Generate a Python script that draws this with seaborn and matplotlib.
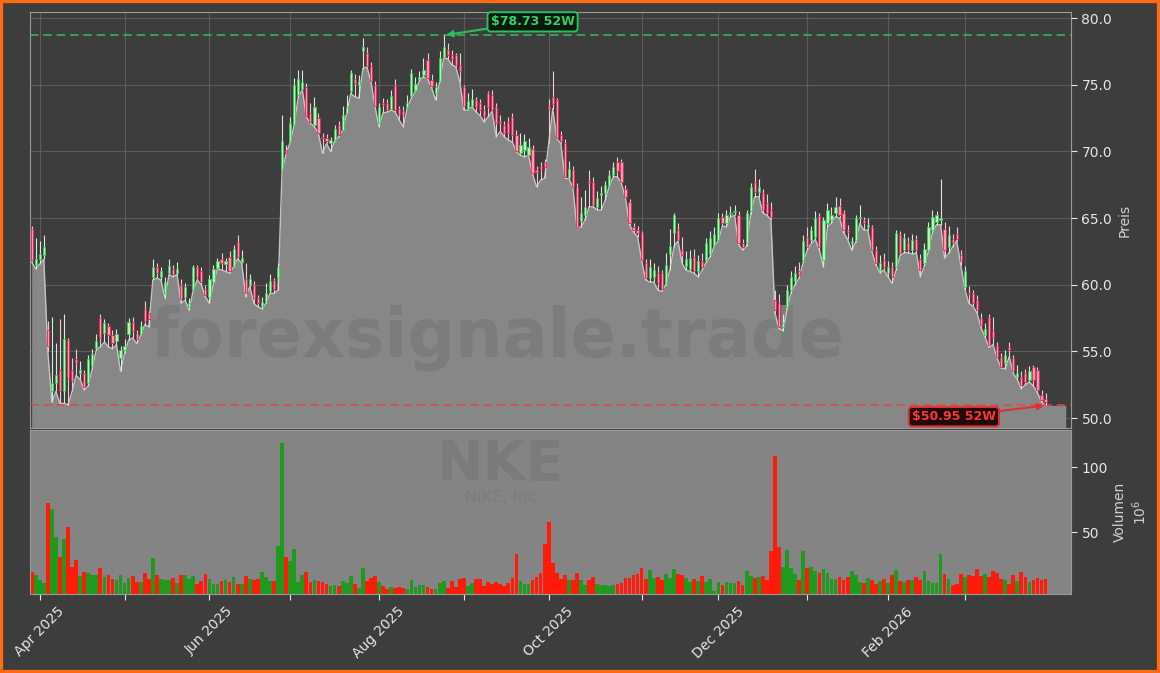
import numpy as np
import pandas as pd
import matplotlib
matplotlib.use("Agg")
import matplotlib.pyplot as plt
from matplotlib.patches import Rectangle
import seaborn as sns

# NKE daily bars, 28 Mar 2025 - 30 Mar 2026
holidays = ["2025-04-18", "2025-05-26", "2025-06-19", "2025-07-04", "2025-09-01",
            "2025-11-27", "2025-12-25", "2026-01-01", "2026-01-19", "2026-02-16"]
trade_days = pd.bdate_range("2025-03-28", "2026-03-30")
trade_days = trade_days[~trade_days.isin(pd.to_datetime(holidays))]

opens = [
    64.2, 61.5, 61.9, 62.2, 56.6, 52.0, 52.6, 53.6, 52.0, 55.85,
    53.6, 54.4, 53.35, 53.35, 52.6, 53.9, 55.25, 57.5, 56.4, 56.9,
    56.2, 55.8, 54.5, 55.1, 56.3, 57.2, 56.4, 56.3, 58.2, 57.9,
    60.6, 61.3, 60.6, 59.4, 60.9, 61.2, 60.85, 60.0, 59.1, 58.35,
    59.7, 61.3, 61.0, 59.7, 59.1, 60.2, 61.25, 61.9, 61.55, 62.1,
    61.4, 63.2, 61.7, 60.4, 60.0, 60.0, 59.0, 58.4, 58.8, 59.5,
    60.35, 60.5, 68.65, 70.1, 70.75, 72.05, 74.25, 74.7, 74.85, 72.85,
    72.0, 72.5, 71.1, 71.0, 70.6, 70.85, 71.95, 71.6, 72.9, 74.5,
    75.4, 75.0, 77.5, 77.35, 76.4, 75.0, 72.1, 73.6, 73.6, 73.15,
    75.0, 73.2, 73.0, 73.35, 74.15, 74.6, 75.4, 75.7, 76.85, 75.35,
    74.4, 75.25, 77.1, 77.6, 77.2, 77.2, 76.5, 74.8, 73.2, 73.4,
    73.85, 73.6, 73.1, 74.35, 74.2, 73.35, 72.3, 72.0, 72.2, 72.55,
    71.2, 69.85, 70.1, 69.75, 70.2, 68.6, 68.9, 69.2, 73.4, 74.05,
    73.85, 71.2, 70.6, 68.0, 68.6, 67.35, 64.8, 65.2, 67.75, 67.7,
    65.85, 66.7, 66.85, 67.5, 68.2, 69.2, 69.2, 67.2, 66.2, 64.35,
    64.1, 63.85, 61.6, 60.5, 60.6, 60.85, 60.9, 60.1, 62.3, 63.85,
    64.1, 62.6, 61.4, 61.15, 62.1, 61.0, 61.8, 61.85, 62.3, 63.0,
    63.35, 65.05, 64.6, 65.3, 65.45, 65.25, 63.1, 63.1, 65.5, 67.7,
    66.95, 66.85, 66.1, 65.6, 58.85, 58.6, 56.85, 58.35, 59.6, 60.3,
    61.0, 61.85, 63.6, 63.35, 63.6, 65.15, 61.85, 64.6, 64.85, 65.35,
    65.9, 65.35, 64.1, 63.1, 63.35, 65.0, 64.85, 64.3, 64.35, 62.6,
    61.1, 61.85, 60.85, 61.35, 61.35, 63.7, 62.6, 63.2, 62.6, 63.45,
    61.95, 61.6, 62.6, 64.1, 64.7, 64.85, 64.2, 62.85, 63.45, 63.8,
    62.25, 59.85, 59.4, 59.35, 58.85, 57.5, 56.2, 57.6, 56.5, 55.45,
    54.6, 54.1, 55.35, 54.5, 53.1, 53.1, 53.35, 52.85, 53.85, 53.6,
    51.7, 51.45,
]
highs = [
    64.4, 63.5, 63.3, 63.7, 57.3, 57.6, 55.6, 57.4, 57.8, 56.0,
    54.5, 55.2, 54.3, 53.6, 54.7, 55.2, 56.3, 57.8, 57.4, 57.1,
    56.6, 56.7, 55.4, 55.9, 57.5, 57.6, 56.6, 57.3, 58.8, 58.0,
    61.9, 61.6, 61.3, 60.6, 61.95, 61.5, 61.7, 60.4, 60.1, 59.0,
    61.5, 61.5, 61.3, 60.0, 60.7, 61.5, 62.0, 62.4, 62.0, 62.5,
    63.0, 63.7, 62.6, 61.6, 60.8, 60.3, 59.2, 59.1, 60.1, 60.8,
    60.5, 61.6, 72.75, 70.5, 72.6, 75.5, 76.1, 76.1, 75.1, 73.6,
    74.1, 72.9, 71.4, 71.3, 71.1, 72.0, 72.3, 73.4, 74.2, 76.1,
    75.8, 75.7, 78.5, 77.8, 76.7, 75.3, 73.6, 74.0, 73.9, 74.6,
    75.4, 73.4, 73.4, 74.2, 76.2, 75.6, 76.0, 77.0, 77.4, 75.8,
    75.2, 77.5, 78.73, 78.1, 77.6, 77.4, 77.4, 75.0, 74.35, 74.7,
    74.1, 73.9, 73.5, 74.5, 74.6, 73.6, 72.7, 72.3, 72.6, 72.9,
    71.6, 71.4, 71.3, 71.0, 70.5, 68.9, 69.2, 69.4, 73.9, 76.0,
    74.0, 71.5, 70.9, 69.3, 68.9, 67.6, 66.6, 67.1, 68.6, 68.1,
    67.0, 67.4, 67.8, 68.6, 69.2, 69.6, 69.45, 67.5, 66.4, 64.6,
    64.4, 64.0, 61.9, 61.9, 61.6, 61.4, 61.1, 62.4, 64.2, 65.4,
    64.6, 63.6, 62.5, 62.6, 62.7, 62.2, 62.4, 63.5, 64.0, 64.3,
    65.4, 65.4, 65.6, 65.9, 66.0, 65.5, 63.4, 65.6, 67.6, 68.7,
    67.9, 67.2, 66.8, 66.2, 59.6, 59.3, 57.8, 60.0, 61.0, 61.4,
    61.7, 63.7, 64.3, 64.4, 65.5, 65.4, 65.1, 66.1, 65.8, 66.6,
    66.5, 65.6, 64.5, 63.6, 65.2, 66.0, 65.1, 65.0, 64.5, 62.9,
    62.2, 62.4, 61.8, 61.7, 64.1, 64.0, 63.9, 63.6, 63.8, 63.7,
    62.3, 63.1, 64.7, 65.6, 65.5, 67.95, 64.7, 64.4, 63.8, 64.3,
    62.6, 61.4, 59.9, 59.6, 59.2, 57.9, 57.1, 57.8, 57.6, 55.7,
    54.9, 55.1, 55.7, 54.7, 54.0, 53.5, 53.7, 53.9, 54.0, 53.8,
    52.1, 51.85,
]
lows = [
    61.7, 61.2, 61.55, 61.9, 55.0, 51.2, 52.0, 51.1, 51.1, 51.0,
    52.0, 53.2, 52.9, 52.1, 52.4, 53.7, 55.1, 55.35, 55.7, 55.35,
    55.2, 55.5, 53.5, 54.85, 55.85, 56.0, 55.6, 56.2, 57.0, 56.85,
    60.35, 60.5, 60.35, 59.0, 60.75, 60.6, 60.75, 58.6, 58.85, 58.1,
    59.6, 60.35, 60.0, 59.1, 58.6, 60.1, 61.2, 61.1, 61.0, 60.85,
    61.35, 61.95, 61.6, 59.1, 59.85, 58.6, 58.35, 58.2, 58.6, 59.35,
    59.35, 59.6, 68.6, 69.8, 70.7, 72.0, 74.1, 74.6, 72.6, 72.1,
    71.85, 71.35, 69.85, 70.6, 70.0, 70.75, 71.1, 71.6, 72.85, 74.35,
    74.1, 74.0, 76.2, 76.35, 75.2, 73.35, 71.85, 72.9, 72.95, 73.1,
    72.95, 72.35, 71.85, 73.3, 74.0, 74.5, 75.3, 75.6, 75.45, 74.8,
    73.85, 75.2, 77.05, 76.95, 76.5, 76.35, 75.2, 73.1, 73.1, 73.35,
    72.95, 72.7, 72.2, 72.6, 73.0, 71.1, 71.5, 71.1, 70.85, 70.7,
    69.95, 69.7, 69.6, 69.7, 68.3, 67.35, 67.85, 68.0, 70.6, 73.2,
    70.95, 70.6, 68.0, 67.95, 67.3, 64.2, 64.35, 64.85, 65.85, 65.85,
    65.6, 65.6, 66.35, 67.4, 68.1, 68.1, 67.6, 66.5, 64.5, 63.95,
    63.6, 61.8, 60.35, 60.2, 60.2, 59.6, 59.5, 60.0, 61.1, 62.85,
    63.3, 61.6, 61.1, 61.0, 60.85, 60.6, 61.1, 61.7, 62.1, 62.9,
    63.3, 64.4, 64.35, 65.1, 65.2, 63.0, 62.6, 62.9, 65.3, 66.6,
    66.6, 65.4, 65.2, 64.9, 57.9, 56.7, 56.55, 58.2, 59.4, 60.0,
    60.5, 61.7, 62.6, 63.1, 63.4, 62.6, 61.35, 64.35, 64.6, 65.1,
    65.0, 63.9, 63.4, 62.6, 63.2, 64.6, 64.1, 64.1, 62.5, 61.5,
    60.9, 61.1, 60.6, 60.1, 61.1, 62.2, 62.4, 62.4, 62.3, 62.4,
    60.6, 61.4, 62.5, 63.9, 64.5, 64.5, 62.0, 62.35, 62.85, 63.3,
    61.5, 59.7, 58.6, 58.4, 57.9, 56.8, 56.1, 55.3, 55.5, 54.5,
    53.75, 53.7, 54.6, 53.35, 52.9, 52.2, 52.5, 52.7, 52.4, 51.9,
    51.2, 50.95,
]
closes = [
    61.85, 61.95, 62.3, 62.8, 55.4, 52.6, 53.2, 52.0, 55.9, 53.0,
    52.8, 54.1, 53.6, 52.3, 54.4, 54.8, 55.8, 56.0, 57.1, 56.2,
    55.6, 56.3, 55.1, 55.4, 57.2, 56.5, 55.9, 56.9, 57.3, 57.4,
    61.3, 60.9, 61.0, 60.2, 61.4, 60.8, 61.2, 58.9, 59.8, 58.6,
    61.3, 60.6, 60.2, 59.2, 60.4, 61.2, 61.75, 61.6, 61.75, 61.0,
    62.7, 62.1, 62.0, 59.4, 60.4, 59.0, 58.6, 58.7, 59.4, 60.3,
    59.7, 61.35, 70.75, 69.85, 72.1, 75.0, 75.4, 75.2, 72.65, 72.2,
    73.35, 71.4, 71.0, 70.75, 70.85, 71.7, 71.2, 72.7, 73.3, 75.85,
    75.1, 75.3, 77.85, 76.4, 75.25, 73.4, 73.35, 73.5, 73.1, 74.15,
    73.1, 72.8, 72.7, 73.6, 75.85, 75.05, 75.6, 76.1, 75.5, 74.9,
    74.8, 77.0, 77.8, 77.2, 76.9, 76.5, 76.0, 73.4, 73.8, 73.95,
    73.35, 73.1, 72.65, 73.35, 73.1, 72.1, 72.1, 71.35, 71.35, 71.25,
    70.0, 70.5, 70.75, 70.35, 68.35, 68.45, 68.65, 68.85, 73.2, 73.55,
    71.0, 70.75, 68.1, 68.7, 67.35, 64.25, 65.4, 65.8, 67.6, 65.95,
    66.5, 66.85, 67.5, 68.2, 68.8, 68.5, 67.7, 66.6, 64.6, 64.1,
    63.85, 61.85, 60.5, 61.35, 61.1, 60.1, 59.7, 61.5, 62.9, 65.2,
    63.35, 62.2, 61.9, 62.0, 61.0, 61.8, 61.3, 63.15, 63.5, 63.8,
    65.0, 64.6, 65.2, 65.4, 65.55, 63.1, 62.85, 65.35, 67.35, 66.95,
    67.35, 65.6, 65.35, 65.1, 58.1, 56.85, 57.1, 59.6, 60.6, 60.9,
    60.75, 63.3, 62.85, 64.1, 65.0, 62.85, 64.85, 65.6, 65.2, 65.85,
    65.2, 64.1, 63.95, 63.25, 65.0, 65.1, 64.6, 64.5, 62.6, 61.6,
    61.6, 61.35, 61.3, 60.6, 63.85, 62.35, 63.5, 62.6, 63.35, 62.6,
    61.1, 62.7, 64.35, 65.1, 65.2, 65.0, 62.6, 63.7, 63.1, 63.45,
    61.75, 61.0, 59.3, 58.6, 58.1, 57.0, 56.7, 55.5, 56.1, 54.6,
    53.85, 54.75, 55.1, 53.5, 53.4, 52.5, 52.7, 53.5, 52.85, 52.1,
    51.35, 51.2,
]
# volume in millions of shares
volumes = [
    19.6, 17.3, 13.2, 11.1, 72.1, 68.0, 46.0, 30.6, 45.0, 54.2,
    22.9, 28.8, 16.5, 19.6, 18.8, 17.3, 17.3, 22.1, 15.2, 17.3,
    13.7, 13.4, 17.3, 10.6, 15.0, 16.5, 11.6, 11.9, 18.8, 14.2,
    30.3, 17.3, 14.2, 13.4, 13.4, 15.0, 11.1, 17.3, 17.3, 14.2,
    16.5, 10.3, 12.7, 18.0, 14.2, 10.3, 10.3, 12.7, 13.4, 11.9,
    15.7, 10.3, 10.3, 16.5, 14.2, 13.4, 14.2, 19.6, 15.7, 12.7,
    12.7, 39.6, 118.3, 31.1, 28.0, 37.3, 11.9, 17.3, 19.6, 11.9,
    13.4, 12.7, 11.9, 9.8, 8.8, 9.6, 8.8, 12.7, 11.1, 16.5,
    10.3, 7.3, 22.7, 12.7, 15.0, 16.5, 11.9, 8.8, 6.5, 8.0,
    6.8, 7.5, 7.0, 6.2, 13.4, 8.0, 9.6, 9.6, 8.0, 6.2,
    6.2, 11.1, 12.7, 7.0, 12.7, 8.0, 14.2, 15.0, 8.8, 11.1,
    14.2, 14.2, 8.8, 11.9, 10.3, 11.9, 10.3, 8.8, 11.1, 15.0,
    33.4, 12.7, 10.3, 10.3, 13.4, 15.7, 18.8, 40.9, 58.0, 26.5,
    18.8, 14.2, 17.3, 13.4, 13.4, 18.8, 13.4, 9.6, 13.4, 15.7,
    10.3, 9.6, 9.6, 8.8, 9.6, 10.3, 11.1, 15.0, 15.0, 17.3,
    18.0, 22.7, 14.2, 21.1, 15.0, 15.7, 13.4, 18.0, 15.0, 21.9,
    18.0, 17.3, 15.0, 11.9, 14.2, 12.7, 16.5, 11.9, 14.2, 5.0,
    11.9, 9.6, 11.9, 11.1, 11.1, 12.7, 9.6, 20.3, 16.5, 15.0,
    15.7, 16.5, 13.4, 35.7, 108.8, 38.8, 23.4, 36.5, 22.7, 18.0,
    13.4, 35.7, 22.7, 23.4, 20.3, 18.8, 21.9, 18.8, 14.2, 14.2,
    15.7, 13.4, 15.7, 20.3, 17.3, 11.9, 11.1, 15.0, 13.4, 10.3,
    12.7, 14.2, 11.1, 17.3, 21.1, 12.7, 11.9, 13.4, 13.4, 15.7,
    13.4, 20.3, 12.7, 11.1, 11.1, 33.4, 18.0, 14.2, 9.6, 10.3,
    18.0, 15.7, 17.3, 16.5, 21.9, 16.5, 18.0, 15.7, 20.3, 18.8,
    14.2, 13.4, 10.3, 17.3, 12.7, 19.6, 15.7, 11.9, 13.4, 15.0,
    13.4, 14.2,
]

bg = "#3d3d3d"
fill_col = "#878787"
txt_col = "#e6e6e6"

sns.set_theme(style="dark", rc={
    "figure.facecolor": bg, "axes.facecolor": bg, "axes.edgecolor": "#9a9a9a",
    "text.color": txt_col, "xtick.color": txt_col, "ytick.color": txt_col,
    "axes.labelcolor": "#d0d0d0", "grid.color": "#5c5c5c",
})
plt.rcParams["font.family"] = ["DejaVu Sans"]

o = np.array(opens)
h = np.array(highs)
l = np.array(lows)
c = np.array(closes)
n = len(c)
idx = np.arange(n)
up = c >= o

fig = plt.figure(figsize=(11.6, 6.73), dpi=100)
ax_p = fig.add_axes([0.0259, 0.364, 0.8974, 0.618])
ax_v = fig.add_axes([0.0259, 0.1174, 0.8974, 0.2437])

# ---- price panel ----
x_end = 256.0  # shaded area runs a bit past the last bar
ax_p.fill_between(np.append(idx, x_end), np.append(l, l[-1]), 49.25,
                  color=fill_col, lw=0, zorder=1)
sns.lineplot(x=idx, y=l, ax=ax_p, color="#c4c4c4", lw=1.0, zorder=3)

ax_p.text(0.4486, 0.171, "forexsignale.trade", transform=ax_p.transAxes,
          ha="center", va="baseline", fontsize=48, fontweight="bold",
          color="#7c7c7c", zorder=2)

wick_cols = np.where(up, "#d6ead6", "#f2c8d2").tolist()
face_cols = np.where(up, "#b8f2b8", "#ff9ab0").tolist()
edge_cols = np.where(up, "#3cc85a", "#e8265a").tolist()
ax_p.vlines(idx, l, h, colors=wick_cols, lw=0.8, zorder=4)
ax_p.bar(idx, np.maximum(np.abs(c - o), 0.06), bottom=np.minimum(o, c), width=0.55,
         color=face_cols, edgecolor=edge_cols, linewidth=0.6, zorder=5)

hi_i, lo_i = int(np.argmax(h)), int(np.argmin(l))
hi, lo = h[hi_i], l[lo_i]
ax_p.axhline(hi, color="#33c060", ls=(0, (5, 3)), lw=1.2, alpha=0.9, zorder=3)
ax_p.axhline(lo, color="#e04848", ls=(0, (5, 3)), lw=1.2, alpha=0.9, zorder=3)

ax_p.annotate(f"${hi:.2f} 52W", xy=(hi_i + 0.3, hi), xytext=(124, 79.72),
              ha="center", va="center", color="#35d06e", fontsize=9, fontweight="bold",
              bbox=dict(boxstyle="round,pad=0.25", fc="#071a0c", ec="#2ebd5e", lw=1.4),
              arrowprops=dict(arrowstyle="-|>", color="#2ebd5e", lw=1.5,
                              mutation_scale=9, shrinkA=0, shrinkB=1),
              zorder=7, annotation_clip=False)
ax_p.annotate(f"${lo:.2f} 52W", xy=(lo_i, lo), xytext=(228.3, 50.1),
              ha="center", va="center", color="#ff3535", fontsize=9, fontweight="bold",
              bbox=dict(boxstyle="round,pad=0.25", fc="#1e0a0a", ec="#e03030", lw=1.4),
              arrowprops=dict(arrowstyle="-|>", color="#e03030", lw=1.5,
                              mutation_scale=9, shrinkA=0, shrinkB=1),
              zorder=7, annotation_clip=False)

xlim = (-0.4, 257.3)
month_start = [i for i in range(1, n) if trade_days[i].month != trade_days[i - 1].month]
month_lab = [trade_days[i].strftime("%b %Y") if k % 2 == 0 else ""
             for k, i in enumerate(month_start)]

ax_p.set_xlim(xlim)
ax_p.set_ylim(49.25, 80.45)
ax_p.set_xticks(month_start)
ax_p.tick_params(axis="x", labelbottom=False, length=0)
ax_p.set_yticks([50, 55, 60, 65, 70, 75, 80])
ax_p.set_yticklabels([f"{v:.1f}" for v in [50, 55, 60, 65, 70, 75, 80]])
ax_p.yaxis.tick_right()
ax_p.yaxis.set_label_position("right")
ax_p.tick_params(axis="y", direction="out", length=4, width=0.8, labelsize=10,
                 colors=txt_col, left=False, right=True)
ax_p.set_ylabel("Preis", fontsize=10, color="#d0d0d0")
ax_p.set_xlabel("")
ax_p.set_axisbelow(True)
ax_p.grid(True, color="#5c5c5c", lw=0.8)
for s in ax_p.spines.values():
    s.set_color("#9a9a9a")
    s.set_linewidth(0.8)

# ---- volume panel ----
ax_v.set_facecolor("#848484")
vol_df = pd.DataFrame({"idx": idx, "vol": volumes, "dir": np.where(up, "up", "down")})
sns.barplot(data=vol_df, x="idx", y="vol", hue="dir",
            palette={"up": "#1f9a1f", "down": "#ff1a0a"}, native_scale=True,
            dodge=False, width=0.92, saturation=1, errorbar=None, legend=False,
            linewidth=0, ax=ax_v, zorder=2)

ax_v.text(0.4524, 0.695, "NKE", transform=ax_v.transAxes, ha="center", va="baseline",
          fontsize=40, fontweight="bold", color="#7b7b7b", zorder=1)
ax_v.text(0.4524, 0.56, "NIKE, Inc", transform=ax_v.transAxes, ha="center",
          va="baseline", fontsize=11.5, color="#7c7c7c", zorder=1)

ax_v.set_xlim(xlim)
ax_v.set_ylim(2.4, 128.5)
ax_v.set_xticks(month_start)
ax_v.set_xticklabels(month_lab, rotation=45, fontsize=10, color=txt_col)
ax_v.tick_params(axis="x", direction="out", length=4, width=0.8, colors=txt_col, bottom=True)
ax_v.set_yticks([50, 100])
ax_v.set_yticklabels(["50", "100"])
ax_v.yaxis.tick_right()
ax_v.yaxis.set_label_position("right")
ax_v.tick_params(axis="y", direction="out", length=4, width=0.8, labelsize=10,
                 colors=txt_col, left=False, right=True)
ax_v.set_ylabel("Volumen\n$10^{6}$", fontsize=10, color="#d0d0d0")
ax_v.set_xlabel("")
ax_v.grid(False)
for s in ax_v.spines.values():
    s.set_color("#9a9a9a")
    s.set_linewidth(0.8)

fig.patches.append(Rectangle((0, 0), 1, 1, transform=fig.transFigure, fill=False,
                             ec="#ff6a13", lw=4.5, zorder=10))

fig.savefig("out.png", dpi=100, facecolor=bg)
